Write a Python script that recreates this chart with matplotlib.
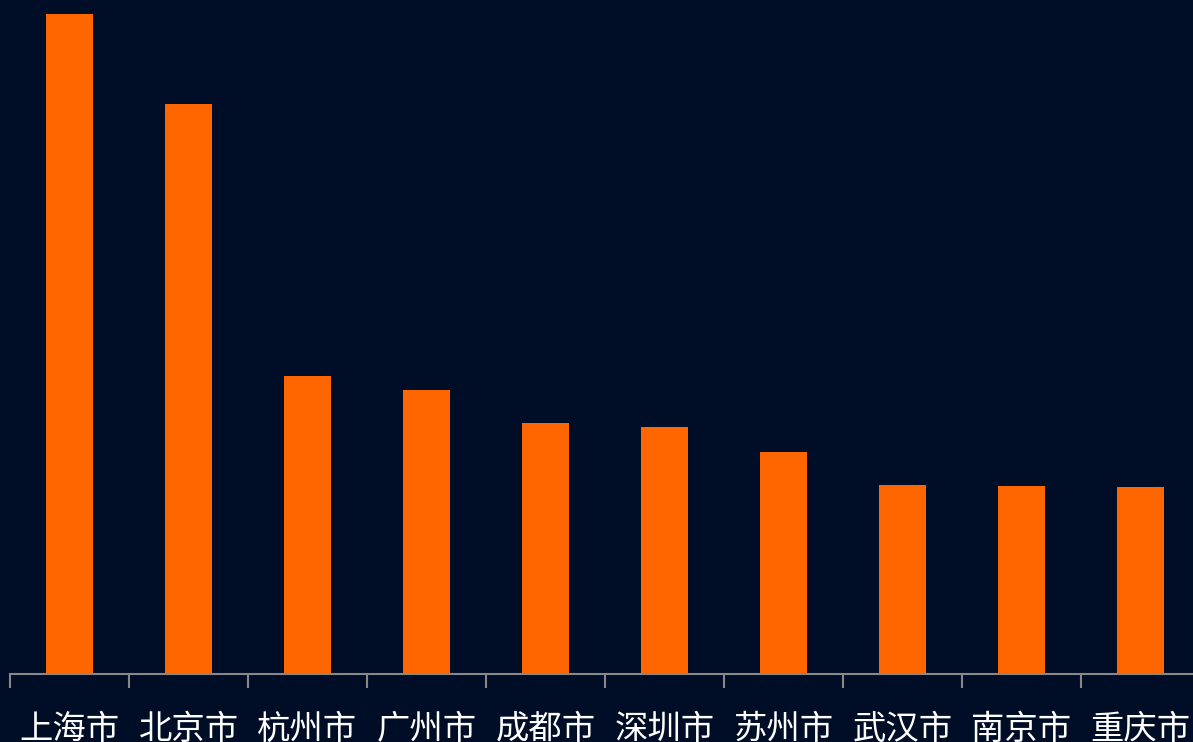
import numpy as np
import matplotlib.pyplot as plt

plt.rcParams['font.family'] = ['Noto Sans CJK SC', 'DejaVu Sans']

cities = ["上海市", "北京市", "杭州市", "广州市", "成都市",
          "深圳市", "苏州市", "武汉市", "南京市", "重庆市"]
values = [660, 570, 298, 284, 251, 247, 222, 189, 188, 187]

BG = "#000d26"
BAR = "#ff6600"

fig = plt.figure(figsize=(11.93, 7.42), dpi=100, facecolor=BG)
ax = fig.add_axes([10 / 1193, 68 / 742, 1190 / 1193, 674 / 742], facecolor=BG)

x = np.arange(len(cities))
ax.bar(x, values, width=0.4, color=BAR, zorder=2)

ax.set_xlim(-0.5, len(cities) - 0.5)
ax.set_ylim(0, 674)

ax.set_xticks(x)
ax.set_xticklabels(cities, color="white", fontsize=24)
ax.set_xticks(np.arange(len(cities) + 1) - 0.5, minor=True)
ax.tick_params(axis="x", which="major", length=0, pad=27)
ax.tick_params(axis="x", which="minor", length=10, width=1.5, color="#888888")
ax.set_yticks([])

for side in ["top", "right", "left"]:
    ax.spines[side].set_visible(False)
ax.spines["bottom"].set_color("#888888")
ax.spines["bottom"].set_linewidth(1.5)

fig.savefig("out.png", dpi=100, facecolor=BG)
